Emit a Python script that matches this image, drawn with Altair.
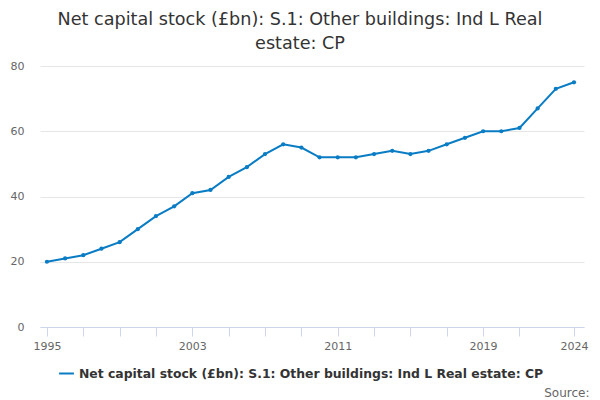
import altair as alt
import pandas as pd

SERIES = "Net capital stock (£bn): S.1: Other buildings: Ind L Real estate: CP"
TITLE_LINES = ["Net capital stock (£bn): S.1: Other buildings: Ind L Real", "estate: CP"]

years = list(range(1995, 2025))
values = [20, 21, 22, 24, 26, 30, 34, 37, 41, 42, 46, 49, 53, 56, 55,
          52, 52, 52, 53, 54, 53, 54, 56, 58, 60, 60, 61, 67, 73, 75]
tick_years = [1995, 1997, 1999, 2001, 2003, 2005, 2007, 2009, 2011,
              2013, 2015, 2017, 2019, 2021, 2024]
label_years = [1995, 2003, 2011, 2019, 2024]
y_ticks = [0, 20, 40, 60, 80]

FONT = "DejaVu Sans"
LINE_COLOR = "#0a7cc4"

frame = pd.DataFrame({"year": years, "value": values, "series": SERIES})

label_test = " || ".join(f"datum.value == {y}" for y in label_years)

chart = (
    alt.Chart(frame)
    .mark_line(strokeWidth=2, point=alt.OverlayMarkDef(size=18, filled=True, opacity=1))
    .encode(
        x=alt.X(
            "year:Q",
            scale=alt.Scale(domain=[1994.62, 2024.55], nice=False, zero=False),
            axis=alt.Axis(
                values=tick_years,
                labelExpr=f"({label_test}) ? datum.label : ''",
                format="d",
                grid=False,
                domainColor="#ccd6eb",
                tickColor="#ccd6eb",
                tickSize=9,
                labelColor="#666666",
                labelFontSize=11,
                labelFont=FONT,
                labelPadding=4,
                title="Source:",
                titleAnchor="end",
                titleAlign="right",
                titleBaseline="middle",
                titleX=549,
                titleY=65,
                titleFont=FONT,
                titleFontSize=12,
                titleFontWeight="normal",
                titleColor="#666666",
            ),
        ),
        y=alt.Y(
            "value:Q",
            scale=alt.Scale(domain=[0, 80], nice=False),
            axis=alt.Axis(
                values=y_ticks,
                title=None,
                domain=False,
                ticks=False,
                gridColor="#e6e6e6",
                labelColor="#666666",
                labelFontSize=11,
                labelFont=FONT,
                labelPadding=16,
            ),
        ),
        color=alt.Color(
            "series:N",
            scale=alt.Scale(domain=[SERIES], range=[LINE_COLOR]),
            legend=alt.Legend(
                title=None,
                orient="none",
                legendX=18,
                legendY=299,
                symbolType="stroke",
                symbolStrokeWidth=2,
                symbolSize=220,
                labelFont=FONT,
                labelFontSize=12.4,
                labelFontWeight="bold",
                labelColor="#333333",
                labelLimit=0,
            ),
        ),
    )
    .properties(
        width=544,
        height=261,
        autosize=alt.AutoSizeParams(type="none"),
        padding={"left": 32, "top": 58, "right": 8, "bottom": 80},
        title=alt.TitleParams(
            text=TITLE_LINES,
            anchor="middle",
            font=FONT,
            fontSize=17.6,
            fontWeight="normal",
            color="#333333",
            lineHeight=24,
            dx=-12,
            offset=7,
        ),
    )
    .configure_view(stroke=None)
)

chart.save("out.html", embed_options={"renderer": "svg", "actions": False})
